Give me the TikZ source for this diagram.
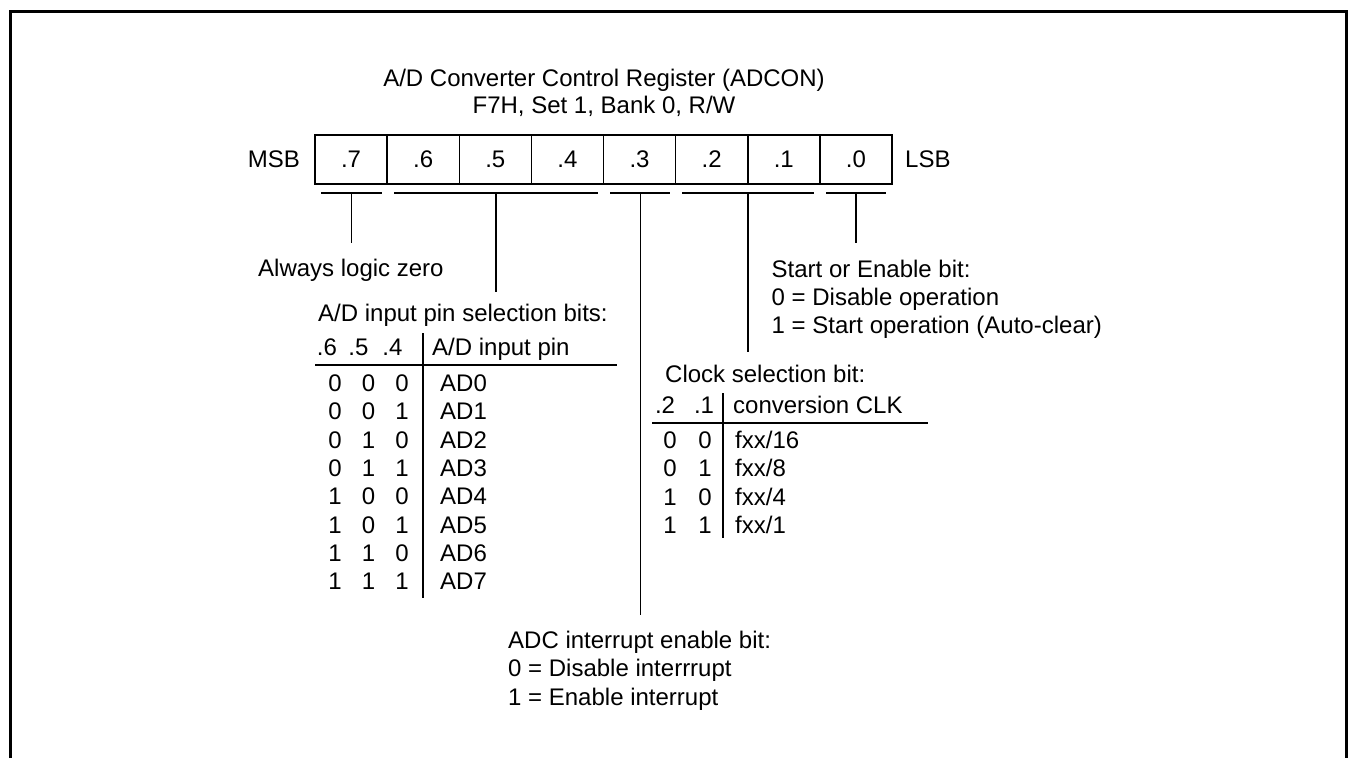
\documentclass[tikz,border=0pt]{standalone}
\usepackage{fontspec}
\setmainfont{Liberation Sans}
\begin{document}
\begin{tikzpicture}[x=1pt,y=-1pt,
  fnt/.style={font=\fontsize{24}{28}\selectfont},
  txt/.style={fnt, inner sep=0pt, anchor=base west},
  ctxt/.style={fnt, inner sep=0pt, anchor=base},
  cell/.style={fnt, draw, line width=1.5pt, minimum width=72.125pt, minimum height=49pt, inner sep=0pt, outer sep=0pt, anchor=north west},
  thin/.style={line width=1.6pt},
  frameline/.style={line width=3pt}]
\useasboundingbox (0,0) rectangle (1348,758);
% outer frame (open at the bottom)
\coordinate (fbl) at (10.5,758);
\coordinate (ftl) at (10.5,11.3);
\coordinate (ftr) at (1346.5,11.3);
\coordinate (fbr) at (1346.5,758);
\draw[frameline] (fbl) -- (ftl) -- (ftr) -- (fbr);

% title
\node[ctxt] (t1) at (604,86) {A/D Converter Control Register (ADCON)};
\node[ctxt] (t2) at (604,113) {F7H, Set 1, Bank 0, R/W};

% register
\node[cell] (b7) at (315,135) {.7};
\node[cell] (b6) at (b7.north east) {.6};
\node[cell] (b5) at (b6.north east) {.5};
\node[cell] (b4) at (b5.north east) {.4};
\node[cell] (b3) at (b4.north east) {.3};
\node[cell] (b2) at (b3.north east) {.2};
\node[cell] (b1) at (b2.north east) {.1};
\node[cell] (b0) at (b1.north east) {.0};
\node[txt, anchor=base east] (msb) at (300,167) {MSB};
\node[txt] (lsb) at (905,167) {LSB};

% underlines
\coordinate (u7a) at (321,193); \coordinate (u7b) at (382,193);
\coordinate (u6a) at (394,193); \coordinate (u4b) at (598,193);
\coordinate (u3a) at (610,193); \coordinate (u3b) at (670,193);
\coordinate (u2a) at (682,193); \coordinate (u1b) at (814,193);
\coordinate (u0a) at (826,193); \coordinate (u0b) at (886,193);
\draw[thin] (u7a) -- (u7b);
\draw[thin] (u6a) -- (u4b);
\draw[thin] (u3a) -- (u3b);
\draw[thin] (u2a) -- (u1b);
\draw[thin] (u0a) -- (u0b);

% ticks
\coordinate (k7) at (351.5,193); \coordinate (e7) at (351.5,243);
\coordinate (k5) at (496,193);   \coordinate (e5) at (496,292);
\coordinate (k3) at (640.5,193); \coordinate (e3) at (640.5,615);
\coordinate (k2) at (748,193);   \coordinate (e2) at (748,352);
\coordinate (k0) at (856,193);   \coordinate (e0) at (856,243);
\draw[thin] (k7) -- (e7);
\draw[thin] (k5) -- (e5);
\draw[thin] (k3) -- (e3);
\draw[thin] (k2) -- (e2);
\draw[thin] (k0) -- (e0);

% bit 7
\node[txt] (always) at (258,276.5) {Always logic zero};

% bit 0
\node[txt] (st1) at (771.5,277) {Start or Enable bit:};
\node[txt] (st2) at (771.5,305) {0 = Disable operation};
\node[txt] (st3) at (771.5,333.5) {1 = Start operation (Auto-clear)};

% bits 6-4 table
\node[txt] (adtitle) at (318,321) {A/D input pin selection bits:};
\node[ctxt] (h6) at (327,355) {.6};
\node[ctxt] (h5) at (358.5,355) {.5};
\node[ctxt] (h4) at (392.5,355) {.4};
\node[txt] (hpin) at (432,355) {A/D input pin};
\coordinate (adl) at (315,365); \coordinate (adr) at (617,365);
\coordinate (adt) at (423,333); \coordinate (adb) at (423,598);
\draw[thin] (adl) -- (adr);
\draw[thin] (adt) -- (adb);
\foreach \a/\b/\c [count=\i from 0] in {0/0/0,0/0/1,0/1/0,0/1/1,1/0/0,1/0/1,1/1/0,1/1/1}{
  \node[ctxt] (r\i a) at (335,391.5+28.3*\i) {\a};
  \node[ctxt] (r\i b) at (368.5,391.5+28.3*\i) {\b};
  \node[ctxt] (r\i c) at (402,391.5+28.3*\i) {\c};
  \node[txt] (r\i p) at (440,391.5+28.3*\i) {AD\i};
}

% bits 2-1 table
\node[txt] (clktitle) at (665,382) {Clock selection bit:};
\node[ctxt] (h2) at (665,413.5) {.2};
\node[ctxt] (h1) at (704,413.5) {.1};
\node[txt] (hclk) at (733,413.5) {conversion CLK};
\coordinate (cl) at (652,423); \coordinate (cr) at (928,423);
\coordinate (ct) at (723,393); \coordinate (cb) at (723,538);
\draw[thin] (cl) -- (cr);
\draw[thin] (ct) -- (cb);
\foreach \a/\b/\f [count=\i from 0] in {0/0/16,0/1/8,1/0/4,1/1/1}{
  \node[ctxt] (c\i a) at (670,448.5+28.3*\i) {\a};
  \node[ctxt] (c\i b) at (705,448.5+28.3*\i) {\b};
  \node[txt] (c\i f) at (735,448.5+28.3*\i) {fxx/\f};
}

% bit 3
\node[txt] (int1) at (508,648) {ADC interrupt enable bit:};
\node[txt] (int2) at (508,676.5) {0 = Disable interrrupt};
\node[txt] (int3) at (508,705) {1 = Enable interrupt};
\end{tikzpicture}
\end{document}
